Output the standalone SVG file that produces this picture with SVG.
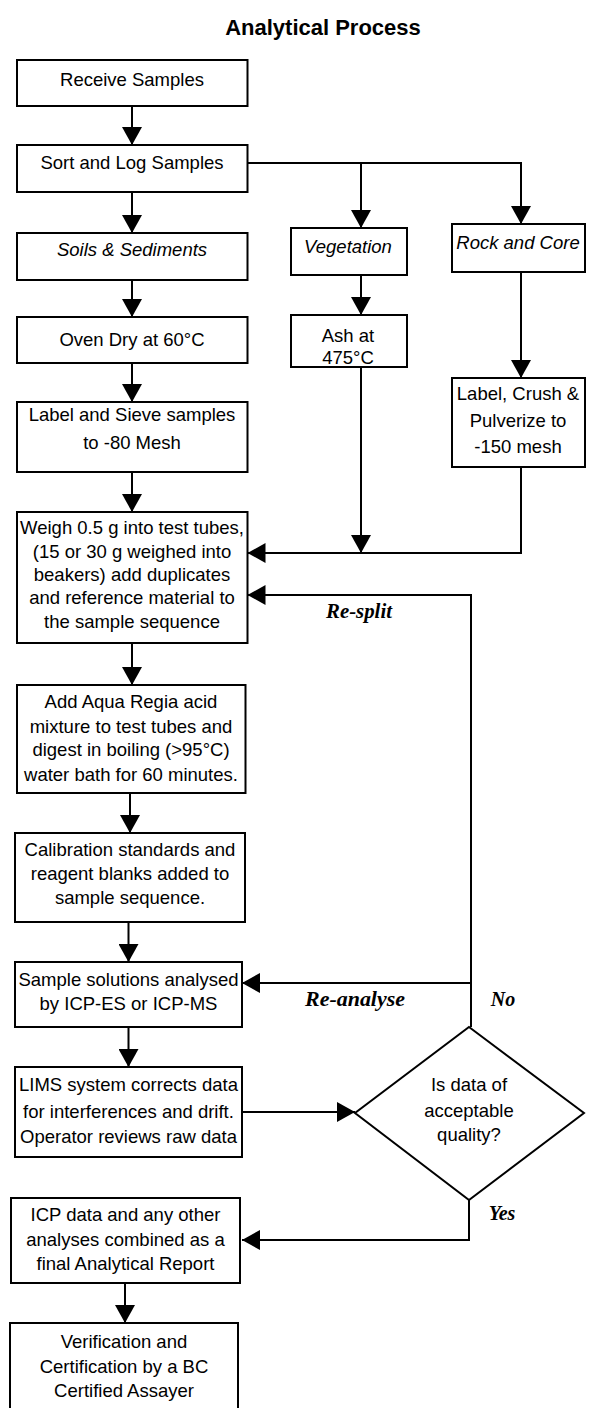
<svg xmlns="http://www.w3.org/2000/svg" width="591" height="1408" viewBox="0 0 591 1408">
<style>
.box{fill:#fff;stroke:#000;stroke-width:2}
.t{font-family:"Liberation Sans",Arial,sans-serif;font-size:18.5px;text-anchor:middle;fill:#000}
.i{font-style:italic}
.title{font-family:"Liberation Sans",Arial,sans-serif;font-size:22px;font-weight:bold;text-anchor:middle;fill:#000}
.lbl{font-family:"Liberation Serif","Times New Roman",serif;font-size:20px;font-style:italic;font-weight:bold;text-anchor:middle;fill:#000}
.c{fill:none;stroke:#000;stroke-width:2}
</style>
<defs>
<marker id="ah" markerUnits="userSpaceOnUse" viewBox="0 0 18 20" refX="18" refY="10" markerWidth="18" markerHeight="20" orient="auto">
<path d="M0,0 L18,10 L0,20 z" fill="#000"/>
</marker>
</defs>
<rect width="591" height="1408" fill="#fff"/>
<text class="title" x="323" y="35">Analytical Process</text>

<g id="connectors">
<path class="c" d="M132,106 V145" marker-end="url(#ah)"/>
<path class="c" d="M132,192 V233" marker-end="url(#ah)"/>
<path class="c" d="M247.5,163 H521 V224" marker-end="url(#ah)"/>
<path class="c" d="M361,163 V228" marker-end="url(#ah)"/>
<path class="c" d="M132,280 V317" marker-end="url(#ah)"/>
<path class="c" d="M132,363 V402" marker-end="url(#ah)"/>
<path class="c" d="M361,275 V315" marker-end="url(#ah)"/>
<path class="c" d="M521,272 V378" marker-end="url(#ah)"/>
<path class="c" d="M132,472 V512" marker-end="url(#ah)"/>
<path class="c" d="M361,367 V553" marker-end="url(#ah)"/>
<path class="c" d="M521,467 V553 H247.5" marker-end="url(#ah)"/>
<path class="c" d="M471,1027 V595 H247.5" marker-end="url(#ah)"/>
<path class="c" d="M471,983 H242" marker-end="url(#ah)"/>
<path class="c" d="M132,643 V685" marker-end="url(#ah)"/>
<path class="c" d="M130,793 V833" marker-end="url(#ah)"/>
<path class="c" d="M128.5,922 V962" marker-end="url(#ah)"/>
<path class="c" d="M128.5,1027 V1067" marker-end="url(#ah)"/>
<path class="c" d="M242,1112 H355" marker-end="url(#ah)"/>
<path class="c" d="M469,1200 V1240 H242" marker-end="url(#ah)"/>
<path class="c" d="M125,1283 V1323" marker-end="url(#ah)"/>
<text class="lbl" x="359" y="618" textLength="66" lengthAdjust="spacingAndGlyphs">Re-split</text>
<text class="lbl" x="355" y="1006" textLength="100" lengthAdjust="spacingAndGlyphs">Re-analyse</text>
<text class="lbl" x="503" y="1006">No</text>
<text class="lbl" x="502" y="1220">Yes</text>
</g>

<g id="receive"><rect class="box" x="17" y="60" width="230.5" height="46"/><text class="t" x="132" y="86">Receive Samples</text></g>
<g id="sort"><rect class="box" x="17" y="145" width="230.5" height="47"/><text class="t" x="132" y="169">Sort and Log Samples</text></g>
<g id="soils"><rect class="box" x="17" y="233" width="230.5" height="47"/><text class="t i" x="132" y="256">Soils &amp; Sediments</text></g>
<g id="vegetation"><rect class="box" x="291" y="228" width="116" height="47"/><text class="t i" x="348" y="253">Vegetation</text></g>
<g id="rock"><rect class="box" x="452" y="224" width="133" height="48"/><text class="t i" x="518" y="249">Rock and Core</text></g>
<g id="oven"><rect class="box" x="17" y="317" width="230.5" height="46"/><text class="t" x="132" y="346">Oven Dry at 60°C</text></g>
<g id="ash"><rect class="box" x="291" y="315" width="116" height="52"/><text class="t" x="348" y="342">Ash at</text><text class="t" x="348" y="364">475°C</text></g>
<g id="sieve"><rect class="box" x="17" y="402" width="230.5" height="70"/><text class="t" x="132" y="421">Label and Sieve samples</text><text class="t" x="132" y="449">to -80 Mesh</text></g>
<g id="crush"><rect class="box" x="452" y="378" width="133" height="89"/><text class="t" x="518" y="400">Label, Crush &amp;</text><text class="t" x="518" y="427">Pulverize to</text><text class="t" x="518" y="453">-150 mesh</text></g>
<g id="weigh"><rect class="box" x="17" y="512" width="230.5" height="131"/>
<text class="t" x="132" y="534">Weigh 0.5 g into test tubes,</text>
<text class="t" x="132" y="558">(15 or 30 g weighed into</text>
<text class="t" x="132" y="581">beakers) add duplicates</text>
<text class="t" x="132" y="604">and reference material to</text>
<text class="t" x="132" y="628">the sample sequence</text></g>
<g id="aqua"><rect class="box" x="17" y="685" width="228.5" height="108"/>
<text class="t" x="131" y="708">Add Aqua Regia acid</text>
<text class="t" x="131" y="733">mixture to test tubes and</text>
<text class="t" x="131" y="756">digest in boiling (&gt;95°C)</text>
<text class="t" x="131" y="781">water bath for 60 minutes.</text></g>
<g id="calibration"><rect class="box" x="15" y="833" width="230" height="89"/>
<text class="t" x="130" y="856">Calibration standards and</text>
<text class="t" x="130" y="880">reagent blanks added to</text>
<text class="t" x="130" y="904">sample sequence.</text></g>
<g id="analyse"><rect class="box" x="15" y="962" width="227" height="65"/>
<text class="t" x="128.5" y="986">Sample solutions analysed</text>
<text class="t" x="128.5" y="1010">by ICP-ES or ICP-MS</text></g>
<g id="lims"><rect class="box" x="15" y="1067" width="227" height="90"/>
<text class="t" x="128.5" y="1091">LIMS system corrects data</text>
<text class="t" x="128.5" y="1118">for interferences and drift.</text>
<text class="t" x="128.5" y="1143">Operator reviews raw data</text></g>
<g id="decision"><polygon class="box" points="469,1027 584,1113 469,1200 355,1113"/>
<text class="t" x="469" y="1091">Is data of</text>
<text class="t" x="469" y="1117">acceptable</text>
<text class="t" x="469" y="1141">quality?</text></g>
<g id="report"><rect class="box" x="11" y="1198" width="229" height="85"/>
<text class="t" x="125.5" y="1221">ICP data and any other</text>
<text class="t" x="125.5" y="1246">analyses combined as a</text>
<text class="t" x="125.5" y="1270">final Analytical Report</text></g>
<g id="verify"><rect class="box" x="10" y="1323" width="228" height="100"/>
<text class="t" x="124" y="1348">Verification and</text>
<text class="t" x="124" y="1373">Certification by a BC</text>
<text class="t" x="124" y="1397">Certified Assayer</text></g>
</svg>
